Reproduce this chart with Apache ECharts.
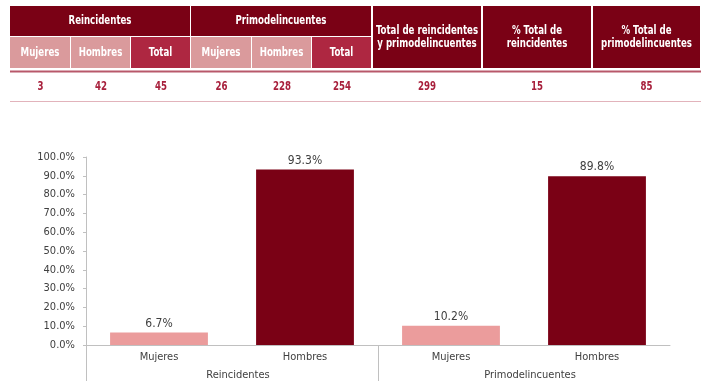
<!DOCTYPE html>
<html><head><meta charset="utf-8">
<script src="https://cdn.jsdelivr.net/npm/echarts@6/dist/echarts.min.js"></script>
<style>html,body{margin:0;padding:0;background:#fff}#c{width:728px;height:391px}</style>
</head><body><div id="c"></div>
<script>
// ---- data ----
const groupHeaders = ['Reincidentes', 'Primodelincuentes'];
const subHeaders = ['Mujeres', 'Hombres', 'Total', 'Mujeres', 'Hombres', 'Total'];
const summaryHeaders = ['Total de reincidentes\ny primodelincuentes', '% Total de\nreincidentes', '% Total de\nprimodelincuentes'];
const tableValues = [3, 42, 45, 26, 228, 254, 299, 15, 85];
const barCategories = ['Mujeres', 'Hombres', 'Mujeres', 'Hombres'];
const barGroups = ['Reincidentes', 'Primodelincuentes'];
const barValues = [6.7, 93.3, 10.2, 89.8];
const yTicks = [0, 10, 20, 30, 40, 50, 60, 70, 80, 90, 100];

// ---- style ----
const FONT = "'DejaVu Sans Condensed','Liberation Sans Narrow',sans-serif";
const DARK = '#7a0115', PINK = '#da9a9c', TOTALC = '#ae2741', LIGHTBAR = '#eb9c9c', VALC = '#a8203c', AXC = '#c0c0c0', TXT = '#404040';
const SX = 0.8;

// table layout
const colEdges = [10, 71, 131, 191, 252, 312, 372, 482, 592, 701];
const r1 = [6, 36], r2 = [37, 68], dataY = 87;
const g = [];
function txt(x, y, t, fill, extra) {
  return {type: 'text', x: x, y: y, scaleX: SX, scaleY: 1,
    style: Object.assign({text: t, fill: fill, font: 'bold 12px ' + FONT, align: 'center', verticalAlign: 'middle'}, extra || {})};
}
groupHeaders.forEach((t, i) => {
  const x0 = colEdges[i * 3], x1 = colEdges[i * 3 + 3] - 1;
  g.push({type: 'rect', shape: {x: x0, y: r1[0], width: x1 - x0, height: r1[1] - r1[0]}, style: {fill: DARK}});
  g.push(txt((x0 + x1) / 2, (r1[0] + r1[1]) / 2, t, '#fff'));
});
subHeaders.forEach((t, i) => {
  const x0 = colEdges[i], x1 = colEdges[i + 1] - 1;
  g.push({type: 'rect', shape: {x: x0, y: r2[0], width: x1 - x0, height: r2[1] - r2[0]}, style: {fill: t === 'Total' ? TOTALC : PINK}});
  g.push(txt((x0 + x1) / 2, (r2[0] + r2[1]) / 2, t, '#fff'));
});
summaryHeaders.forEach((t, i) => {
  const x0 = colEdges[6 + i] + 1, x1 = colEdges[7 + i] - 1;
  g.push({type: 'rect', shape: {x: x0, y: r1[0], width: x1 - x0, height: r2[1] - r1[0]}, style: {fill: DARK}});
  g.push(txt((x0 + x1) / 2, (r1[0] + r2[1]) / 2, t, '#fff', {lineHeight: 13}));
});
g.push({type: 'rect', shape: {x: colEdges[0], y: 70.5, width: colEdges[9] - colEdges[0], height: 2}, style: {fill: '#b8586a'}});
g.push({type: 'rect', shape: {x: colEdges[0], y: 101, width: colEdges[9] - colEdges[0], height: 1}, style: {fill: '#e2b3bb'}});
tableValues.forEach((v, i) => {
  g.push(txt((colEdges[i] + colEdges[i + 1]) / 2, dataY, String(v), VALC));
});

const chart = echarts.init(document.getElementById('c'), null, {renderer: 'canvas'});
chart.setOption({
  animation: false,
  textStyle: {fontFamily: FONT},
  grid: {left: 86, top: 157, width: 584, height: 188, containLabel: false},
  graphic: g,
  xAxis: [{
    type: 'category', data: barCategories, position: 'bottom',
    axisLine: {lineStyle: {color: AXC, width: 1}},
    axisTick: {length: 18, interval: 0, lineStyle: {color: AXC}},
    axisLabel: {interval: 0, margin: 7, color: TXT, fontSize: 11, fontFamily: FONT}
  }, {
    type: 'value', min: 0, max: barCategories.length, position: 'bottom',
    axisLine: {show: false}, splitLine: {show: false},
    axisTick: {show: true, length: 36, lineStyle: {color: AXC}, customValues: [0, 2]},
    axisLabel: {show: true, margin: 25, color: TXT, fontSize: 11, fontFamily: FONT, customValues: [1, 3],
      padding: [0, 0, 0, 12],
      formatter: v => barGroups[Math.floor(v / 2)]}
  }],
  yAxis: {
    type: 'value', min: yTicks[0], max: yTicks[yTicks.length - 1], interval: 10,
    axisLine: {show: true, lineStyle: {color: AXC}},
    axisTick: {show: true, length: 3, lineStyle: {color: AXC}},
    splitLine: {show: false},
    axisLabel: {margin: 11, color: TXT, fontSize: 11, fontFamily: FONT, formatter: v => v.toFixed(1) + '%'}
  },
  series: [{
    type: 'bar', xAxisIndex: 0, barWidth: '67%',
    data: barValues.map((v, i) => ({value: v, itemStyle: {color: barCategories[i] === 'Mujeres' ? LIGHTBAR : DARK}})),
    label: {show: true, position: 'top', distance: 3, color: TXT, fontSize: 12, fontFamily: FONT, formatter: p => p.value.toFixed(1) + '%'}
  }]
});
</script></body></html>
